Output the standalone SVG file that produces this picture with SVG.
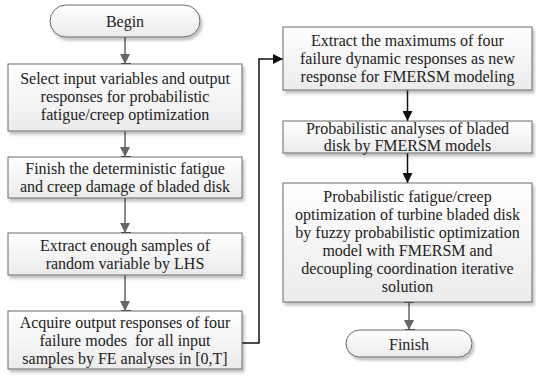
<svg xmlns="http://www.w3.org/2000/svg" width="536" height="378" viewBox="0 0 536 378">
<defs>
<linearGradient id="g" x1="0" y1="0" x2="0" y2="1">
<stop offset="0" stop-color="#ffffff"/>
<stop offset="1" stop-color="#ebebeb"/>
</linearGradient>
<filter id="sh" x="-10%" y="-10%" width="130%" height="140%">
<feGaussianBlur in="SourceAlpha" stdDeviation="1.5"/>
<feOffset dx="2" dy="3" result="b"/>
<feComponentTransfer><feFuncA type="linear" slope="0.25"/></feComponentTransfer>
<feMerge><feMergeNode/><feMergeNode in="SourceGraphic"/></feMerge>
</filter>
<marker id="ag" viewBox="0 0 10 10" refX="10" refY="5" markerWidth="10" markerHeight="10" markerUnits="userSpaceOnUse" orient="auto">
<path d="M0,0 L10,5 L0,10 z" fill="#666"/>
</marker>
<marker id="ak" viewBox="0 0 10 10" refX="10" refY="5" markerWidth="10" markerHeight="10" markerUnits="userSpaceOnUse" orient="auto">
<path d="M0,0 L10,5 L0,10 z" fill="#111"/>
</marker>
</defs>
<style>
.box{fill:url(#g);stroke:#6b6b6b;stroke-width:1;filter:url(#sh)}
.t text{font-size:16px;fill:#222;text-anchor:middle}
.cg{stroke:#666;stroke-width:1.5;fill:none}
.ck{stroke:#111;stroke-width:1.5;fill:none}
.tick{stroke:#333;stroke-width:2}
</style>
<g id="connectors">
<line class="cg" x1="125" y1="37" x2="125" y2="64" marker-end="url(#ag)"/>
<line class="cg" x1="125" y1="131" x2="125" y2="157" marker-end="url(#ag)"/>
<line class="cg" x1="125" y1="198" x2="125" y2="233" marker-end="url(#ag)"/>
<line class="cg" x1="125" y1="275" x2="125" y2="311" marker-end="url(#ag)"/>
<polyline class="ck" points="242,343 259,343 259,59 283,59" marker-end="url(#ak)"/>
<line class="ck" x1="407.5" y1="90" x2="407.5" y2="121" marker-end="url(#ak)"/>
<line class="ck" x1="407.5" y1="153" x2="407.5" y2="183" marker-end="url(#ak)"/>
<line class="cg" x1="409" y1="302" x2="409" y2="330" marker-end="url(#ag)"/>
<line class="tick" x1="121" y1="64" x2="131" y2="64"/>
<line class="tick" x1="121" y1="157" x2="131" y2="157"/>
<line class="tick" x1="121" y1="233" x2="131" y2="233"/>
<line class="tick" x1="121" y1="311" x2="131" y2="311"/>
<line class="tick" x1="404" y1="302" x2="414" y2="302"/>
<line class="tick" x1="405" y1="330" x2="415" y2="330"/>
</g>
<g class="t" font-family="'Liberation Serif', 'Times New Roman', 'DejaVu Serif', serif">
<g id="begin">
<rect class="box" x="50" y="5" width="150" height="32" rx="16" ry="16"/>
<text x="125" y="26.5">Begin</text>
</g>
<g id="box1">
<rect class="box" x="8" y="64" width="234" height="67"/>
<text x="125" y="83.5">Select input variables and output</text>
<text x="125" y="101.5">responses for probabilistic</text>
<text x="125" y="119.5">fatigue/creep optimization</text>
</g>
<g id="box2">
<rect class="box" x="8" y="157" width="234" height="41"/>
<text x="125" y="174">Finish the deterministic fatigue</text>
<text x="125" y="192">and creep damage of bladed disk</text>
</g>
<g id="box3">
<rect class="box" x="8" y="233" width="234" height="42"/>
<text x="125" y="250.5">Extract enough samples of</text>
<text x="125" y="268.5">random variable by LHS</text>
</g>
<g id="box4">
<rect class="box" x="8" y="311" width="234" height="58"/>
<text x="125" y="327.5">Acquire output responses of four</text>
<text x="125" y="345.5" xml:space="preserve">failure modes  for all input</text>
<text x="125" y="363.5">samples by FE analyses in [0,T]</text>
</g>
<g id="box5">
<rect class="box" x="283" y="27" width="249" height="63"/>
<text x="407.5" y="46">Extract the maximums of four</text>
<text x="407.5" y="64">failure dynamic responses as new</text>
<text x="407.5" y="82">response for FMERSM modeling</text>
</g>
<g id="box6">
<rect class="box" x="283" y="121" width="249" height="32"/>
<text x="407.5" y="133.5">Probabilistic analyses of bladed</text>
<text x="407.5" y="150.5">disk by FMERSM models</text>
</g>
<g id="box7">
<rect class="box" x="283" y="183" width="249" height="119"/>
<text x="407.5" y="202">Probabilistic fatigue/creep</text>
<text x="407.5" y="220">optimization of turbine bladed disk</text>
<text x="407.5" y="238">by fuzzy probabilistic optimization</text>
<text x="407.5" y="256">model with FMERSM and</text>
<text x="407.5" y="274">decoupling coordination iterative</text>
<text x="407.5" y="292">solution</text>
</g>
<g id="finish">
<rect class="box" x="346" y="330" width="126" height="27" rx="13.5" ry="13.5"/>
<text x="409" y="349.5">Finish</text>
</g>
</g>
</svg>
